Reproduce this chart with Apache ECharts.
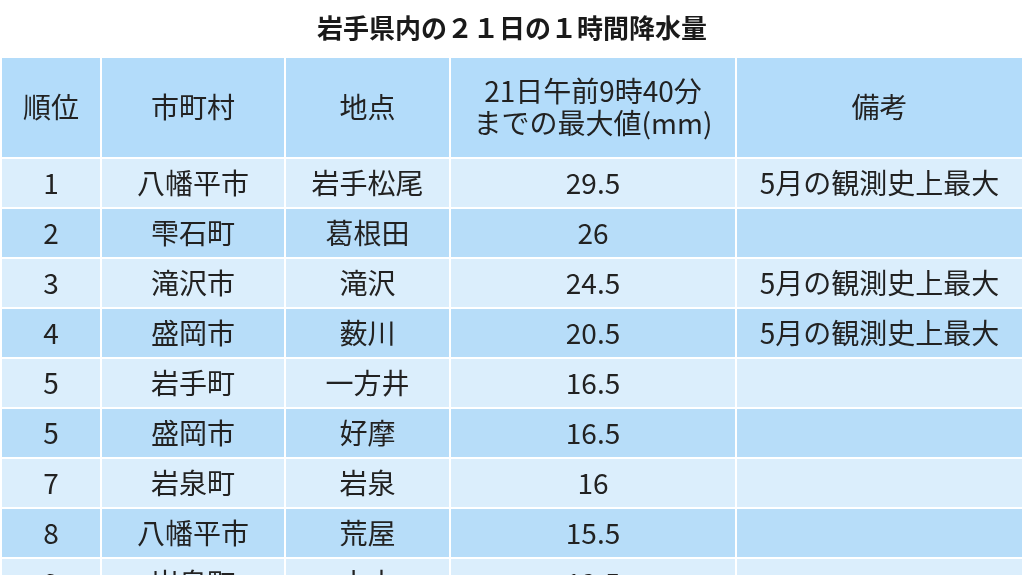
<!DOCTYPE html>
<html><head><meta charset="utf-8">
<script src="https://cdn.jsdelivr.net/npm/echarts@6/dist/echarts.min.js"></script>
<style>html,body{margin:0;padding:0;background:#fff}#c{width:1024px;height:575px}</style>
</head><body><div id="c"></div>
<script>
const headers = ['順位','市町村','地点','21日午前9時40分\nまでの最大値(mm)','備考'];
const ranks = ['1','2','3','4','5','5','7','8','9'];
const towns = ['八幡平市','雫石町','滝沢市','盛岡市','岩手町','盛岡市','岩泉町','八幡平市','岩泉町'];
const sites = ['岩手松尾','葛根田','滝沢','薮川','一方井','好摩','岩泉','荒屋','小本'];
const values = [29.5, 26, 24.5, 20.5, 16.5, 16.5, 16, 15.5, 12.5];
const notes = ['5月の観測史上最大','','5月の観測史上最大','5月の観測史上最大','','','','',''];

const colEdges = [2, 102, 286, 451, 737, 1024];
const FONT = '"Noto Sans CJK JP","Noto Sans",sans-serif';
const cells = [];
headers.forEach((h,c)=>cells.push([c, -1, h]));
for (let r=0;r<ranks.length;r++){
  const row=[ranks[r],towns[r],sites[r],String(values[r]),notes[r]];
  row.forEach((t,c)=>cells.push([c,r,t]));
}
function rowTop(r){ return r<0 ? 58 : 159 + 50*r; }
function rowBot(r){ return r<0 ? 157 : 207 + 50*r; }

const chart = echarts.init(document.getElementById('c'));
chart.setOption({
  animation:false,
  title:{text:'岩手県内の２１日の１時間降水量',left:'center',top:10,
    textStyle:{fontFamily:FONT,fontSize:26,fontWeight:'bold',color:'#1a1a1a'}},
  grid:{left:0,right:0,top:0,bottom:0},
  xAxis:{type:'value',min:0,max:1024,show:false},
  yAxis:{type:'value',min:0,max:575,inverse:true,show:false},
  series:[{type:'custom',data:cells,renderItem:function(params,api){
    const c=api.value(0), r=api.value(1), t=cells[params.dataIndex][2];
    const p0=api.coord([colEdges[c], rowTop(r)]);
    const p1=api.coord([colEdges[c+1]-2, rowBot(r)]);
    const fill = r<0 ? '#b3dcfa' : (r%2===0 ? '#dbeefc' : '#b7ddf9');
    return {type:'group',children:[
      {type:'rect',shape:{x:p0[0],y:p0[1],width:p1[0]-p0[0],height:p1[1]-p0[1]},style:{fill:fill}},
      {type:'text',style:{text:t,x:(p0[0]+p1[0])/2,y:(p0[1]+p1[1])/2,align:'center',verticalAlign:'middle',
        fontFamily:FONT,fontSize:28,lineHeight:32,fill:'#222'}}
    ]};
  }}]
});
</script></body></html>
